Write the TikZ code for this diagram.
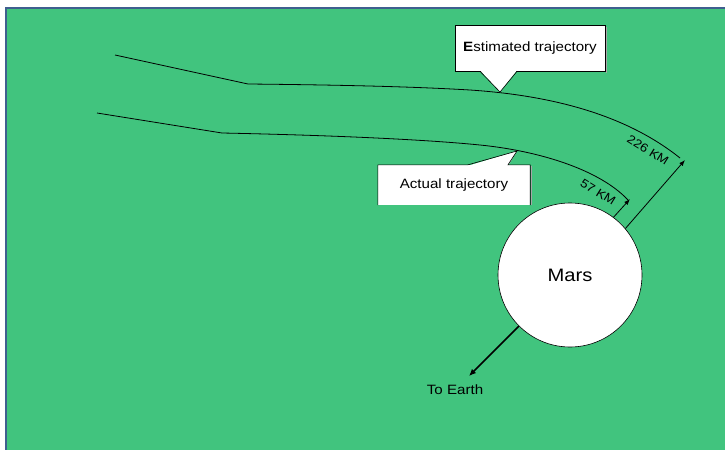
\documentclass[tikz,border=0pt]{standalone}
\usepackage{fontspec}
\setmainfont{Liberation Sans}
\newfontfamily\widesans[FakeStretch=1.12]{Liberation Sans}
\usetikzlibrary{arrows.meta}
\definecolor{fieldgreen}{HTML}{41C47E}
\definecolor{frameblue}{HTML}{3F5F8F}
\tikzset{
  callbox/.style={fill=white,draw=black,line width=0.6pt,inner sep=0pt,font=\widesans\fontsize{13.5}{15}\selectfont},
  orbit/.style={line width=0.8pt},
  hop/.style={arrows={-Latex[length=6pt,width=4.5pt]},line width=0.8pt},
  kmlabel/.style={rotate=-32,font=\widesans\fontsize{12}{14}\selectfont}
}
\begin{document}
\begin{tikzpicture}[x=1pt,y=-1pt]
  \useasboundingbox (0,0) rectangle (725,450);
  \fill[color=frameblue] (5,7) rectangle (725,450);
  \fill[color=fieldgreen] (7,9) rectangle (725,450);

  % the two paths past the planet
  \draw[orbit] (115,55) -- (248,84) .. controls (350,85) and (420,87) .. (470,90) .. controls (560,96) and (630,118) .. (680,158);
  \draw[orbit] (97,113) -- (222,133) .. controls (320,135) and (420,139) .. (480,145) .. controls (540,151) and (600,170) .. (628,200);

  \coordinate (esttip) at (500,92);
  \coordinate (acttip) at (517,151);
  \coordinate (farpass) at (685,160);
  \coordinate (nearpass) at (630,199);
  \coordinate (earthward) at (469,376);

  \node[circle,fill=white,draw=black,line width=0.6pt,minimum size=144pt,inner sep=0pt,
        font=\widesans\fontsize{18}{20}\selectfont] (mars) at (570,275) {Mars};

  \draw[hop] (mars.53) -- (nearpass);
  \draw[hop] (mars.40) -- (farpass);
  \draw[hop,line width=1.6pt,arrows={-Latex[length=7pt,width=6pt]}] (mars.225) -- (earthward);

  \node[kmlabel] (nearlabel) at (598,192) {57 KM};
  \node[kmlabel] (farlabel) at (648,150) {226 KM};
  \node[font=\widesans\fontsize{13.5}{15}\selectfont] (earth) at (455,390) {To Earth};

  % callouts
  \draw[color=gray!70,line width=1.2pt] (606.5,27) -- (606.5,73);
  \node[callbox,minimum width=150pt,minimum height=46pt] (est) at (530,48) {\textbf{E}stimated trajectory};
  \fill[white] ([xshift=-50pt,yshift=1pt]est.south) -- (esttip) -- ([xshift=-13pt,yshift=1pt]est.south) -- cycle;
  \draw[line width=0.6pt] ([xshift=-50pt]est.south) -- (esttip) -- ([xshift=-13pt]est.south);

  \draw[color=gray!70,line width=1.2pt] (531.5,166) -- (531.5,205);
  \node[fill=white,inner sep=0pt,minimum width=152pt,minimum height=40pt,
        font=\widesans\fontsize{13.5}{15}\selectfont] (act) at (454,185) {Actual trajectory};
  \fill[white] ([xshift=14pt,yshift=-1pt]act.north) -- (acttip) -- ([xshift=54pt,yshift=-1pt]act.north) -- cycle;
  \draw[line width=0.6pt] (act.south west) -- (act.north west) -- ([xshift=14pt]act.north) -- (acttip)
    -- ([xshift=54pt]act.north) -- (act.north east) -- (act.south east);
\end{tikzpicture}
\end{document}
